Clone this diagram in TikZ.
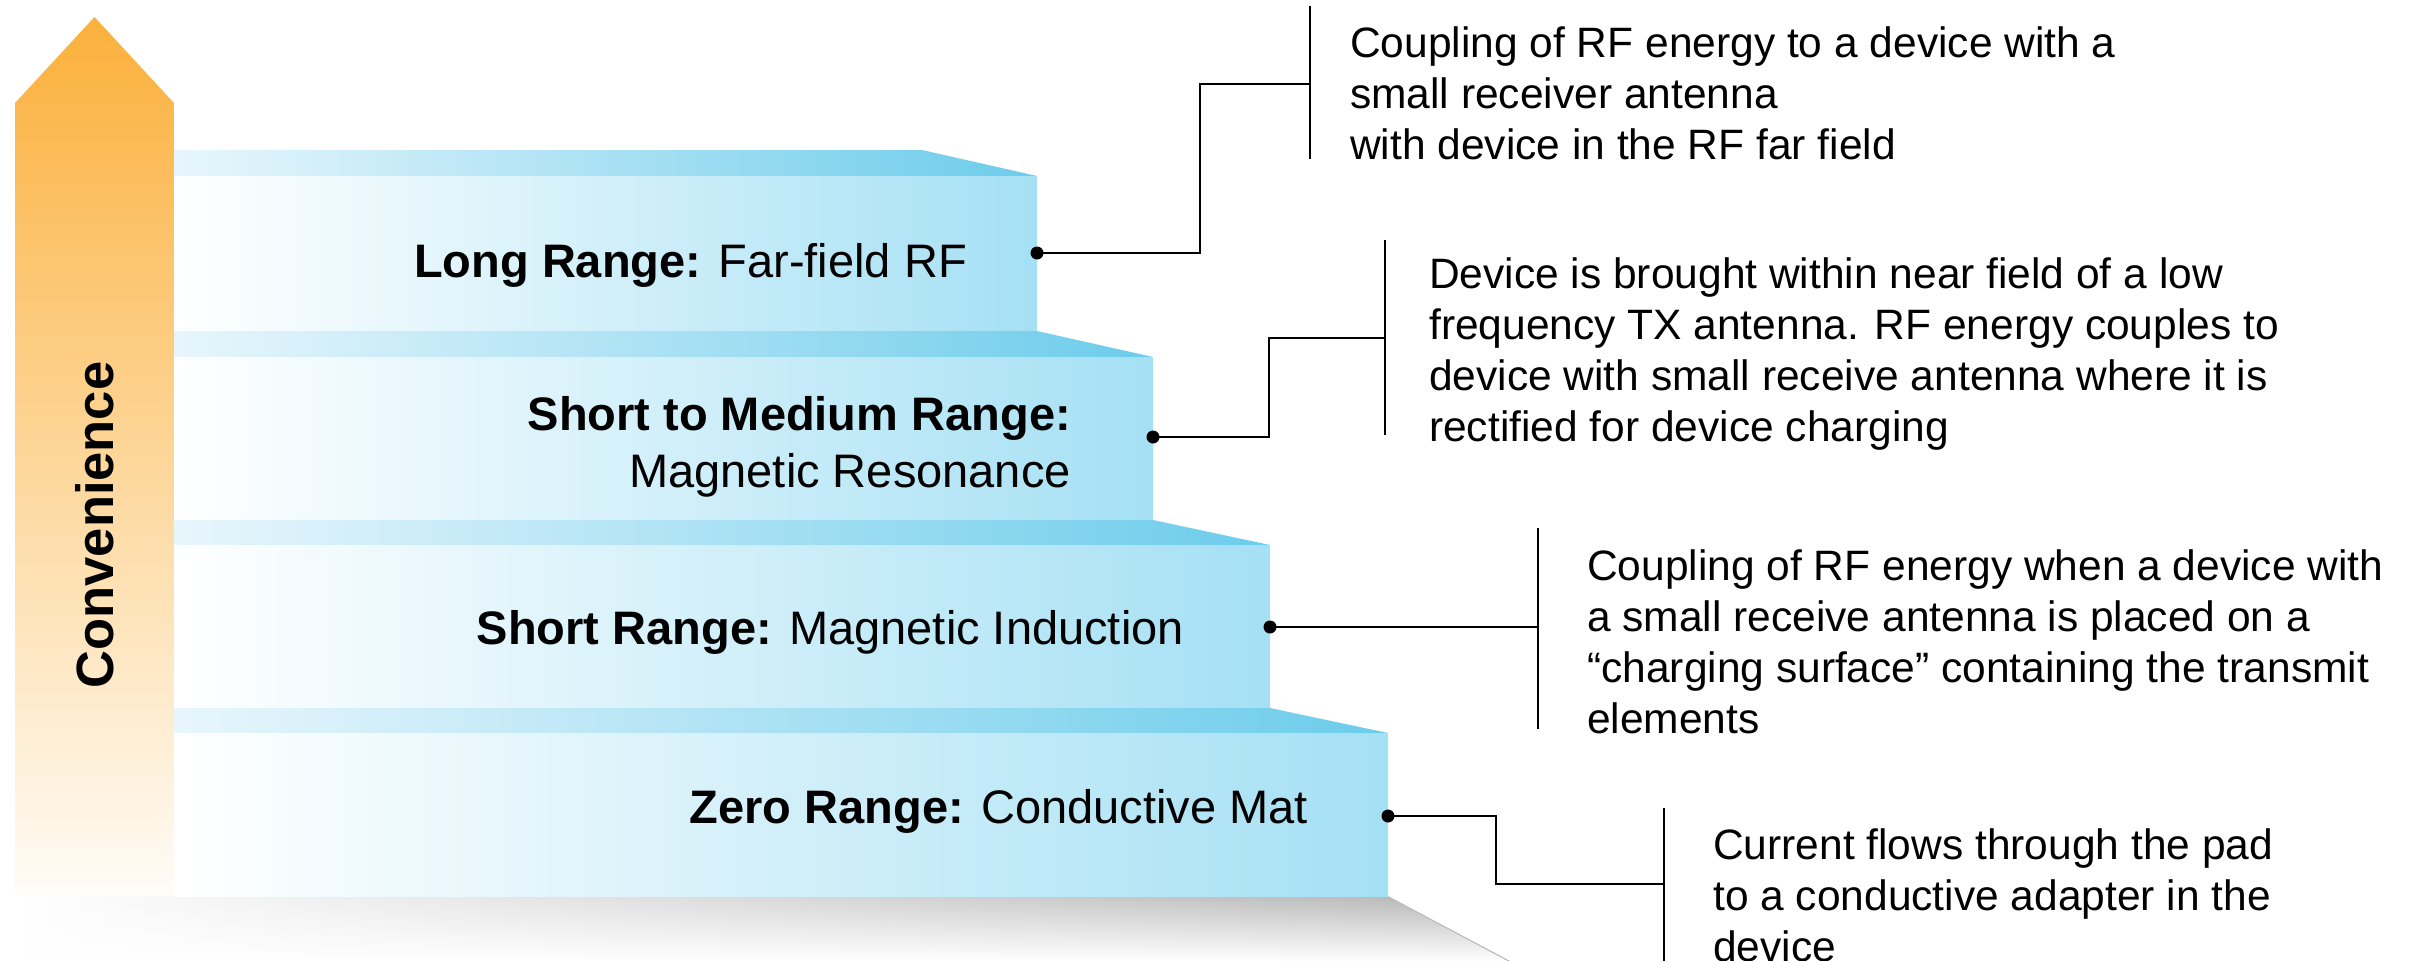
\documentclass[tikz,border=0pt]{standalone}
\usepackage{fontspec}
\setmainfont{Liberation Sans}
\usetikzlibrary{fadings}
\definecolor{arrowtop}{HTML}{FBB03B}
\definecolor{arrowbot}{HTML}{FFFCF7}
\definecolor{faceblue}{HTML}{A5E0F4}
\definecolor{bandblue}{HTML}{6CCCEB}
\definecolor{bandlight}{HTML}{E8F6FC}
\definecolor{shadowgray}{HTML}{B4B4B4}
\tikzfading[name=fadedown, top color=transparent!100, bottom color=transparent!0]
\begin{document}
\begin{tikzpicture}[x=1pt,y=-1pt,
  face/.style={left color=white, right color=faceblue},
  band/.style={left color=bandlight, right color=bandblue},
  steplabel/.style={font=\fontsize{47}{57}\selectfont, inner sep=0pt, anchor=base east},
  desc/.style={font=\fontsize{42.5}{51}\selectfont, inner sep=0pt, anchor=base west},
  pin/.style={circle, fill=black, inner sep=0pt, minimum size=13pt},
  link/.style={line width=2.8pt},
  bar/.style={line width=2pt}]
\useasboundingbox (0,0) rectangle (2415,961);
% shadow under the steps
\shade[left color=white, right color=shadowgray] (15,896) -- (1388,896) -- (1510,961) -- (15,961) -- cycle;
\fill[white, path fading=fadedown] (15,896) -- (1388,896) -- (1510,961) -- (15,961) -- cycle;
% convenience arrow
\shade[top color=arrowtop, bottom color=arrowbot] (15,896) -- (15,103) -- (94.5,17) -- (174,103) -- (174,896) -- cycle;
\node[rotate=90, font=\fontsize{52.5}{60}\selectfont\bfseries, inner sep=0pt] (conv) at (95,525) {Convenience};
% steps
\shade[band] (174,150) -- (922,150) -- (1037,176) -- (174,176) -- cycle;
\shade[face] (174,176) rectangle (1037,331);
\shade[band] (174,331) -- (1037,331) -- (1153,357) -- (174,357) -- cycle;
\shade[face] (174,357) rectangle (1153,520);
\shade[band] (174,520) -- (1153,520) -- (1270,545) -- (174,545) -- cycle;
\shade[face] (174,545) rectangle (1270,708);
\shade[band] (174,708) -- (1270,708) -- (1388,733) -- (174,733) -- cycle;
\shade[face] (174,733) rectangle (1388,896);
% step labels
\node[steplabel] (l1) at (967,277) {\textbf{Long Range:} Far-field RF};
\node[steplabel] (l2) at (1071,430) {\begin{tabular}[t]{@{}r@{}}\textbf{Short to Medium Range:}\\Magnetic Resonance\end{tabular}};
\node[steplabel] (l3) at (1184,644) {\textbf{Short Range:} Magnetic Induction};
\node[steplabel] (l4) at (1308,823) {\textbf{Zero Range:} Conductive Mat};
% descriptions
\node[desc] (t1) at (1350,57) {\begin{tabular}[t]{@{}l@{}}Coupling of RF energy to a device with a\\small receiver antenna\\with device in the RF far field\end{tabular}};
\node[desc] (t2) at (1429,288) {\begin{tabular}[t]{@{}l@{}}Device is brought within near field of a low\\frequency TX antenna. RF energy couples to\\device with small receive antenna where it is\\rectified for device charging\end{tabular}};
\node[desc] (t3) at (1587,580) {\begin{tabular}[t]{@{}l@{}}Coupling of RF energy when a device with\\a small receive antenna is placed on a\\“charging surface” containing the transmit\\elements\end{tabular}};
\node[desc] (t4) at (1713,859) {\begin{tabular}[t]{@{}l@{}}Current flows through the pad\\to a conductive adapter in the\\device\end{tabular}};
% bars
\coordinate (b1t) at (1310,6);   \coordinate (b1b) at (1310,159); \coordinate (b1) at (1310,84);
\coordinate (b2t) at (1385,240); \coordinate (b2b) at (1385,435); \coordinate (b2) at (1385,338);
\coordinate (b3t) at (1538,528); \coordinate (b3b) at (1538,729); \coordinate (b3) at (1538,627);
\coordinate (b4t) at (1664,808); \coordinate (b4b) at (1664,961); \coordinate (b4) at (1664,884);
\draw[bar] (b1t) -- (b1b);
\draw[bar] (b2t) -- (b2b);
\draw[bar] (b3t) -- (b3b);
\draw[bar] (b4t) -- (b4b);
% pins and connectors
\node[pin] (d1) at (1037,253) {};
\node[pin] (d2) at (1153,437) {};
\node[pin] (d3) at (1270,627) {};
\node[pin] (d4) at (1388,816) {};
\draw[link] (d1.center) -- ++(163,0) |- (b1);
\draw[link] (d2.center) -- ++(116,0) |- (b2);
\draw[link] (d3.center) -- (b3);
\draw[link] (d4.center) -- ++(108,0) |- (b4);
\end{tikzpicture}
\end{document}
